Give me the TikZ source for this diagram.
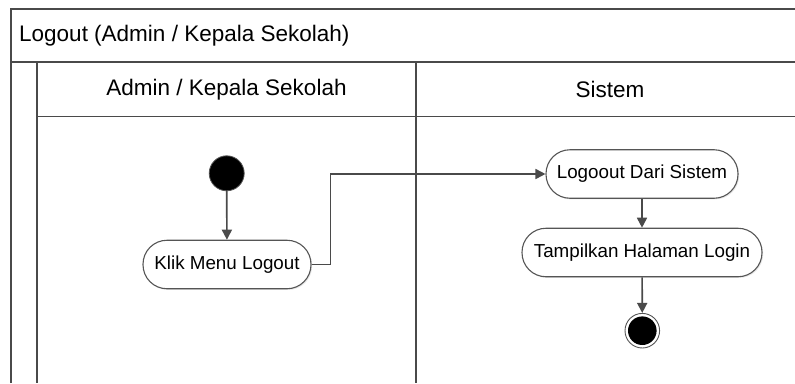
\documentclass[tikz,border=0pt]{standalone}
\usepackage{fontspec}
\setmainfont{Liberation Sans}
\usetikzlibrary{arrows.meta,shadows}
\definecolor{framegray}{HTML}{4A4A4A}
\definecolor{nodegray}{HTML}{555555}
\tikzset{
  frameline/.style={draw=framegray, line width=1.7pt},
  action/.style={draw=nodegray, line width=1.1pt, fill=white, rounded corners=24pt,
    inner sep=0pt, minimum height=48.5pt, font=\fontsize{18.8}{22}\selectfont,
    drop shadow={shadow xshift=1.2pt, shadow yshift=-1.2pt, opacity=0.18}},
  startstate/.style={circle, draw=nodegray, line width=0.8pt, fill=black, inner sep=0pt, minimum size=35pt},
  endstate/.style={circle, draw=nodegray, line width=0.9pt, fill=white, inner sep=0pt, minimum size=34.6pt},
  flow/.style={draw=framegray, line width=1.7pt, -{Triangle[length=10pt,width=10pt]}},
  titletext/.style={font=\fontsize{22.5}{26}\selectfont, inner sep=0pt}
}
\begin{document}
\begin{tikzpicture}[x=1pt, y=-1pt]
  \useasboundingbox (0,0) rectangle (795,383);
  \fill[white] (0,0) rectangle (795,383);

  % swimlane frame
  \draw[frameline] (11,383) -- (11,9) -- (795,9);
  \draw[frameline] (11,62) -- (795,62);
  \draw[frameline] (37,62) -- (37,383);
  \draw[frameline] (37,116.5) -- (795,116.5);
  \draw[frameline] (416,62) -- (416,383);

  % titles
  \node[titletext, anchor=west] (pooltitle) at (19,36) {Logout (Admin / Kepala Sekolah)};
  \node[titletext] (lane1) at (226.5,89.5) {Admin / Kepala Sekolah};
  \node[titletext] (lane2) at (610,89.5) {Sistem};

  % activity nodes
  \node[startstate] (start) at (226.7,173.3) {};
  \node[action, minimum width=168pt] (klik) at (227,264.5) {Klik Menu Logout};
  \node[action, minimum width=192pt] (logout) at (642,174) {Logoout Dari Sistem};
  \node[action, minimum width=240pt] (tampil) at (642,252.5) {Tampilkan Halaman Login};
  \node[endstate] (finish) at (642.3,330.7) {};
  \fill[black] (finish.center) circle[radius=14.3pt];

  % control flows
  \draw[flow] (start) -- (klik);
  \draw[flow] (klik.east) -- ++(19,0) |- (logout.west);
  \draw[flow] (logout) -- (tampil);
  \draw[flow] (tampil) -- (finish);
\end{tikzpicture}
\end{document}
